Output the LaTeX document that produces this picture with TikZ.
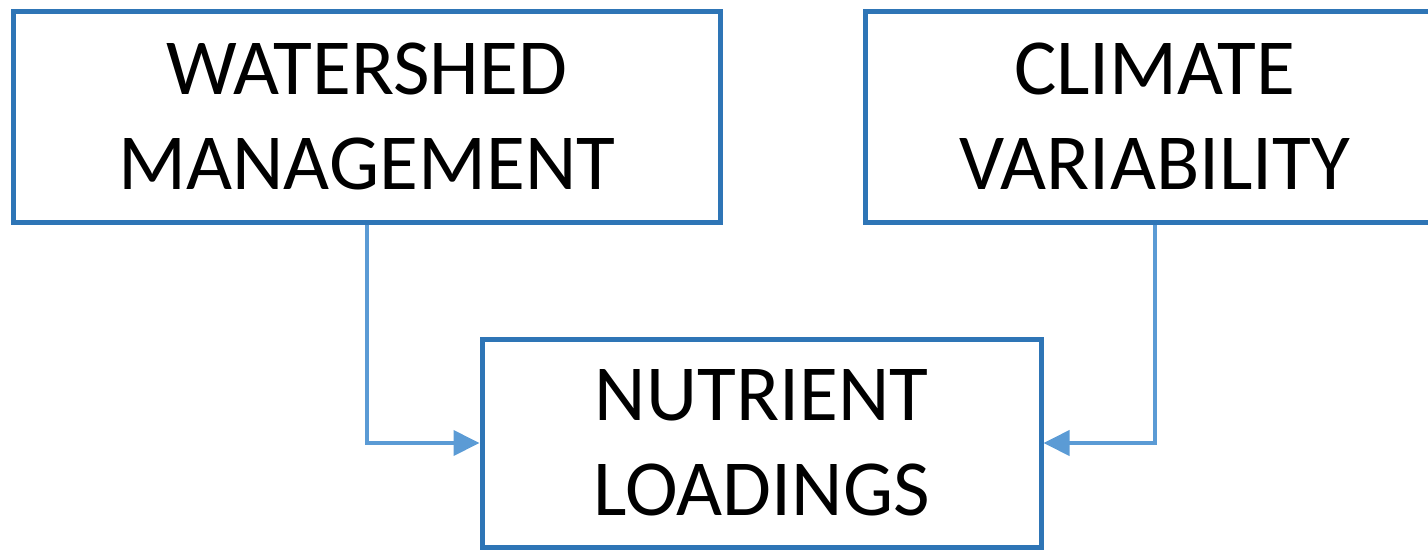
\documentclass[tikz,border=0pt]{standalone}
\usepackage{fontspec}
\setmainfont{Carlito}
\usetikzlibrary{arrows.meta}
\begin{document}
\begin{tikzpicture}[x=1pt,y=1pt,
  box/.style={draw=boxblue, line width=5pt, fill=white, inner sep=0pt,
    outer sep=2.5pt, align=center, font=\fontsize{79.5}{95}\selectfont},
  link/.style={draw=linkblue, line width=4pt, -{Triangle[length=26pt,width=25pt]}}]
\definecolor{boxblue}{HTML}{2E75B6}
\definecolor{linkblue}{HTML}{5B9BD5}
\useasboundingbox (0,0) rectangle (1428,-550);
\clip (0,0) rectangle (1428,-550);
% the three boxes
\node[box, minimum width=706.5pt, minimum height=211pt] (wm) at (366.75,-116.5)
  {WATERSHED\\MANAGEMENT};
\node[box, minimum width=578.5pt, minimum height=211pt] (cv) at (1154.75,-116.5)
  {CLIMATE\\VARIABILITY};
\node[box, minimum width=559pt, minimum height=208pt] (nl) at (761.5,-443)
  {NUTRIENT\\LOADINGS};
% elbow connectors into the lower box
\draw[link] (wm.south) |- (nl.west);
\draw[link] (cv.south) |- (nl.east);
\end{tikzpicture}
\end{document}
